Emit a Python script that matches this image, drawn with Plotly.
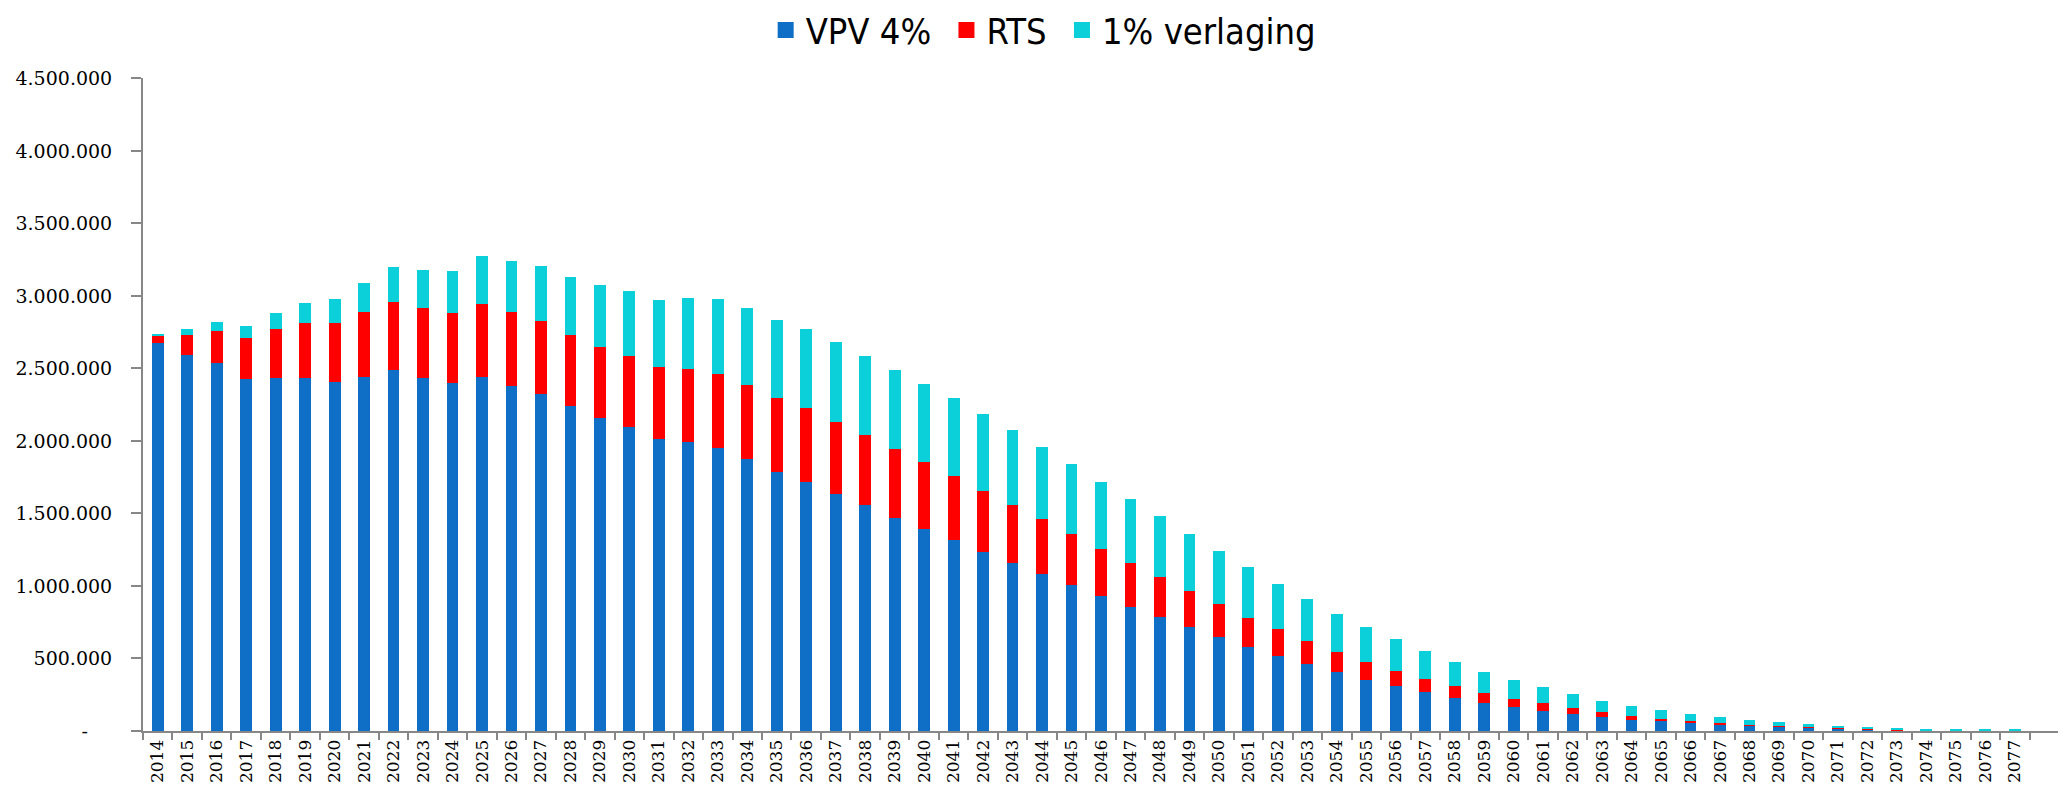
import plotly.graph_objects as go

years = [str(y) for y in range(2014, 2078)]

vpv_4pct = [2674, 2594, 2539, 2429, 2434, 2434, 2404, 2441, 2487, 2436, 2400, 2439, 2381, 2324,
            2240, 2159, 2094, 2015, 1993, 1951, 1874, 1786, 1719, 1635, 1556, 1470, 1396, 1320,
            1236, 1160, 1083, 1004, 930, 853, 785, 716, 645, 581, 517, 460, 405, 355, 309, 268,
            226, 195, 167, 140, 115, 96, 78, 66, 52, 41, 32, 27, 21, 14, 10, 4, 2, 1, 1, 0]

rts = [50, 137, 219, 279, 338, 379, 409, 446, 473, 483, 482, 503, 506, 503,
       491, 489, 492, 492, 502, 514, 512, 513, 510, 499, 487, 476, 457, 440,
       422, 398, 376, 355, 323, 304, 276, 249, 229, 201, 183, 162, 142, 123, 107, 92,
       81, 68, 57, 50, 41, 32, 27, 18, 14, 14, 11, 7, 6, 6, 3, 4, 1, 1, 0, 0]

verlaging_1pct = [12, 39, 65, 85, 110, 140, 164, 199, 240, 263, 293, 334, 356, 382,
                  398, 429, 449, 462, 492, 513, 528, 537, 543, 547, 543, 545, 540, 534,
                  527, 516, 501, 483, 466, 446, 419, 396, 368, 346, 316, 288, 261, 236, 215, 189,
                  169, 147, 129, 110, 98, 81, 69, 60, 53, 41, 32, 28, 21, 16, 17, 15, 13, 10, 8, 8]

series_names = ["VPV 4%", "RTS", "1% verlaging"]
series_colors = ["#0F6FC6", "#FF0000", "#0BD0D9"]

y_tickvals = [0, 500000, 1000000, 1500000, 2000000, 2500000, 3000000, 3500000, 4000000, 4500000]
y_ticktext = ["-\u00a0\u00a0\u00a0\u00a0", "500.000", "1.000.000", "1.500.000", "2.000.000",
              "2.500.000", "3.000.000", "3.500.000", "4.000.000", "4.500.000"]

fig = go.Figure()
for name, vals, col in zip(series_names, [vpv_4pct, rts, verlaging_1pct], series_colors):
    fig.add_trace(go.Bar(
        x=years, y=[v * 1000 for v in vals], name=name, legendgroup=name,
        showlegend=False,
        marker=dict(color=col, line=dict(width=0)),
    ))

# legend-only entries with larger square symbols
legend_labels = ["VPV 4%\u00a0", "RTS\u00a0", "1% verlaging"]
for name, label, col in zip(series_names, legend_labels, series_colors):
    fig.add_trace(go.Scatter(
        x=[None], y=[None], mode="markers", name=label, legendgroup=name,
        marker=dict(symbol="square", size=16, color=col),
        hoverinfo="skip",
    ))

axis_col = "#878787"
fig.update_layout(
    barmode="stack",
    bargap=0.6,
    width=2058, height=788,
    margin=dict(l=130, r=7, t=68, b=64.5),
    paper_bgcolor="white", plot_bgcolor="white",
    font=dict(family="DejaVu Serif", color="#000000"),
    legend=dict(
        orientation="h", xref="container", yref="container",
        x=0.503, xanchor="center", y=0.972, yanchor="middle",
        font=dict(family="DejaVu Sans Condensed, DejaVu Sans", size=36, color="#000000"),
        itemsizing="trace", traceorder="normal",
    ),
    xaxis=dict(
        type="category", categoryorder="array", categoryarray=years + [" "],
        range=[-0.5, 64.5],
        showline=True, linecolor=axis_col, linewidth=2,
        ticks="outside", tickson="boundaries", ticklen=7, tickcolor=axis_col, tickwidth=2,
        tickangle=-90, tickfont=dict(family="DejaVu Serif", size=17, color="#000000"),
        showgrid=False, zeroline=False,
    ),
    yaxis=dict(
        range=[0, 4500000], tickvals=y_tickvals, ticktext=y_ticktext,
        showline=True, linecolor=axis_col, linewidth=2,
        ticks="outside", ticklen=10, tickcolor=axis_col, tickwidth=2,
        ticklabelstandoff=15,
        tickfont=dict(family="DejaVu Serif", size=19, color="#000000"),
        showgrid=False, zeroline=False,
    ),
)

fig.write_html("out.html")
